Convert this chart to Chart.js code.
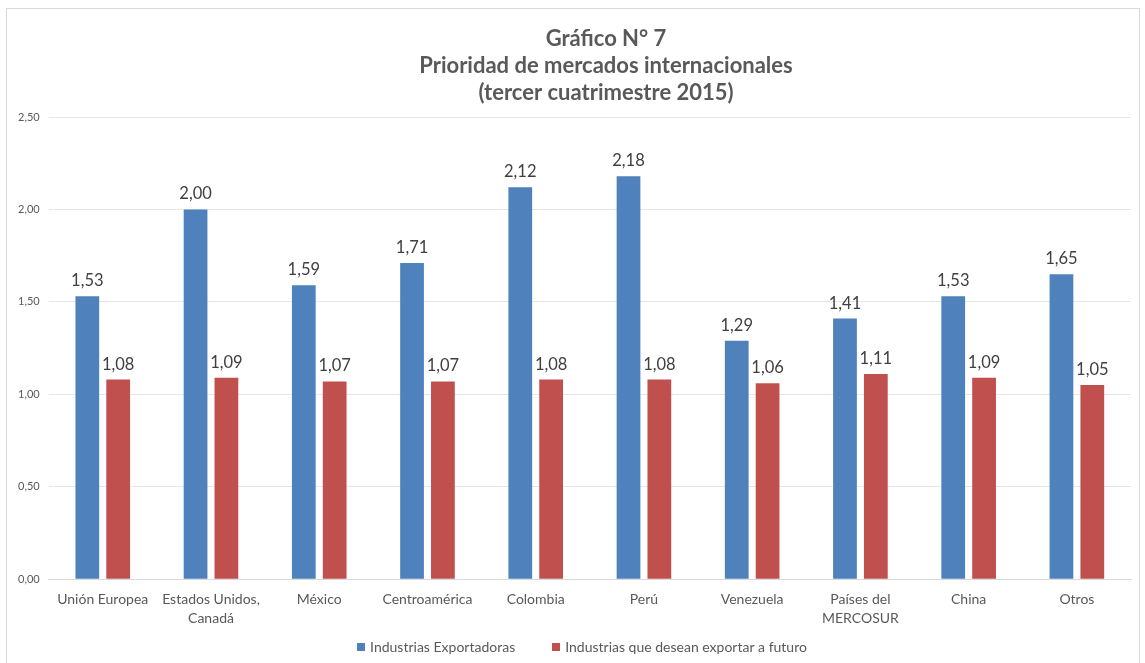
<!DOCTYPE html>
<html>
<head>
<meta charset="utf-8">
<script src="https://cdn.jsdelivr.net/npm/chart.js@4"></script>
<style>
html,body{margin:0;padding:0;background:#fff;}
#wrap{position:absolute;left:0;top:0;width:1145px;height:663px;}
</style>
</head>
<body>
<div id="wrap"><canvas id="c" width="1145" height="663"></canvas></div>
<script>
const categories = ["Unión Europea", ["Estados Unidos,", "Canadá"], "México", "Centroamérica", "Colombia", "Perú", "Venezuela", ["Países del", "MERCOSUR"], "China", "Otros"];
const exportadoras = [1.53, 2.00, 1.59, 1.71, 2.12, 2.18, 1.29, 1.41, 1.53, 1.65];
const futuro = [1.08, 1.09, 1.07, 1.07, 1.08, 1.08, 1.06, 1.11, 1.09, 1.05];
const seriesNames = ["Industrias Exportadoras", "Industrias que desean exportar a futuro"];
const seriesColors = ["#4f81bd", "#c0504d"];
const titleLines = ["Gráfico N° 7", "Prioridad de mercados internacionales", "(tercer cuatrimestre 2015)"];

const FONT = 'Lato, "Open Sans", sans-serif';
const fmt = v => v.toFixed(2).replace('.', ',');

const frame = {
  id: 'frame',
  beforeDraw(chart) {
    const ctx = chart.ctx;
    ctx.save();
    ctx.fillStyle = '#fff';
    ctx.fillRect(0, 0, chart.width, chart.height);
    ctx.strokeStyle = '#d9d9d9';
    ctx.lineWidth = 1;
    ctx.strokeRect(6.5, 8.5, 1133, 660);
    ctx.restore();
  }
};

const titlePlugin = {
  id: 'titleText',
  afterDraw(chart) {
    const ctx = chart.ctx;
    ctx.save();
    ctx.font = 'bold 22px ' + FONT;
    ctx.fillStyle = '#595959';
    ctx.textAlign = 'center';
    ctx.textBaseline = 'alphabetic';
    titleLines.forEach((t, i) => ctx.fillText(t, 606, 46 + i * 27));
    ctx.restore();
  }
};

const legendPlugin = {
  id: 'bottomLegend',
  afterDraw(chart) {
    const ctx = chart.ctx;
    ctx.save();
    ctx.font = '14px ' + FONT;
    ctx.textBaseline = 'middle';
    ctx.textAlign = 'left';
    const box = 8, gapBox = 5, gapItem = 37, cy = 647, cx = 582;
    const widths = chart.data.datasets.map(ds => box + gapBox + ctx.measureText(ds.label).width);
    const total = widths.reduce((a, b) => a + b, 0) + gapItem * (widths.length - 1);
    let x = cx - total / 2;
    chart.data.datasets.forEach((ds, i) => {
      ctx.fillStyle = ds.backgroundColor;
      ctx.fillRect(Math.round(x), cy - box / 2, box, box);
      ctx.fillStyle = '#595959';
      ctx.fillText(ds.label, x + box + gapBox, cy);
      x += widths[i] + gapItem;
    });
    ctx.restore();
  }
};

const labels = {
  id: 'valueLabels',
  afterDatasetsDraw(chart) {
    const ctx = chart.ctx;
    ctx.save();
    ctx.font = '16.5px ' + FONT;
    ctx.fillStyle = '#404040';
    ctx.textAlign = 'center';
    ctx.textBaseline = 'alphabetic';
    chart.data.datasets.forEach((ds, i) => {
      chart.getDatasetMeta(i).data.forEach((bar, j) => {
        ctx.fillText(fmt(ds.data[j]), bar.x, bar.y - 10);
      });
    });
    ctx.restore();
  }
};

new Chart(document.getElementById('c'), {
  type: 'bar',
  data: {
    labels: categories,
    datasets: [
      { label: seriesNames[0], data: exportadoras, backgroundColor: seriesColors[0], borderColor: seriesColors[0], categoryPercentage: 0.57, barPercentage: 0.77 },
      { label: seriesNames[1], data: futuro, backgroundColor: seriesColors[1], borderColor: seriesColors[1], categoryPercentage: 0.57, barPercentage: 0.77 }
    ]
  },
  options: {
    responsive: false,
    animation: false,
    devicePixelRatio: 1,
    layout: { padding: { left: 9, right: 14, top: 117, bottom: 32 } },
    plugins: {
      title: { display: false },
      legend: { display: false },
      tooltip: { enabled: false }
    },
    scales: {
      x: {
        grid: { display: false },
        border: { display: true, color: '#d9d9d9' },
        ticks: {
          color: '#595959',
          font: { family: FONT, size: 14, lineHeight: 1.35 },
          maxRotation: 0,
          autoSkip: false,
          padding: 3
        }
      },
      y: {
        min: 0,
        max: 2.5,
        grid: { color: '#e6e6e6', drawTicks: false },
        border: { display: false },
        ticks: {
          stepSize: 0.5,
          color: '#595959',
          font: { family: FONT, size: 11 },
          padding: 9,
          callback: v => fmt(v)
        }
      }
    }
  },
  plugins: [frame, titlePlugin, labels, legendPlugin]
});
</script>
</body>
</html>
